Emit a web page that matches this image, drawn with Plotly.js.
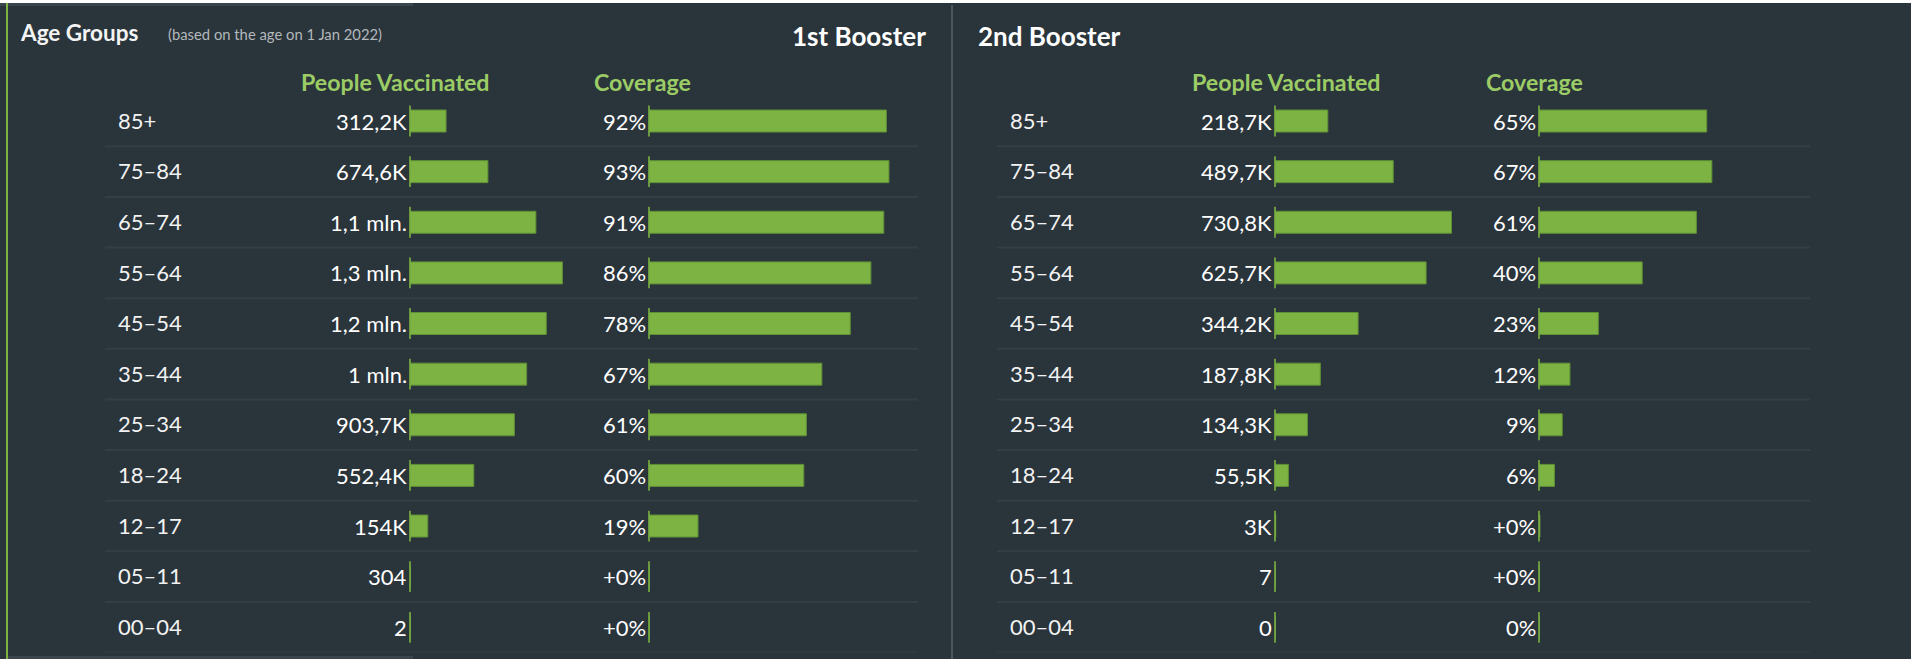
<!DOCTYPE html>
<html><head><meta charset="utf-8">
<script src="https://cdn.plot.ly/plotly-3.0.1.min.js"></script>
<style>html,body{margin:0;padding:0;background:#2a343b;overflow:hidden}#chart{width:1911px;height:659px}</style>
</head><body><div id="chart"></div>
<script>
// ---- data ----
const ageGroups = ['85+', '75–84', '65–74', '55–64', '45–54', '35–44', '25–34', '18–24', '12–17', '05–11', '00–04'];
const people1st = [312200, 674600, 1090000, 1320000, 1180000, 1010000, 903700, 552400, 154000, 304, 2];
const coverage1st = [92, 93, 91, 86, 78, 67, 61, 60, 19, 0.02, 0.0002];
const people2nd = [218700, 489700, 730800, 625700, 344200, 187800, 134300, 55500, 3000, 7, 0];
const coverage2nd = [65, 67, 61, 40, 23, 12, 9, 6, 0.37, 0.0005, 0];
const panelTitles = ['1st Booster', '2nd Booster'];
const columnHeaders = ['People Vaccinated', 'Coverage'];

// ---- helpers ----
const W = 1911, H = 659;
const px = v => v / W;
const py = v => 1 - v / H;
const BG = '#2a343b', GREEN = '#7cb342', EDGE = '#5f8f35', HEAD = '#9ccc65';
const FONT = 'Lato, "Open Sans", sans-serif';

function trimNum(s) { return s.replace(/\.0$/, '').replace('.', ','); }
function fmtPeople(v) {
  if (v >= 1e6) return trimNum((v / 1e6).toFixed(1)) + ' mln.';
  if (v >= 1e3) return trimNum((v / 1e3).toFixed(1)) + 'K';
  return String(v);
}
function fmtCov(v) {
  if (v === 0) return '0%';
  const r = Math.round(v);
  return (r === 0 ? '+0' : String(r)) + '%';
}

const panels = [
  {xa: 'x',  ya: 'y',  vals: people1st,   fmt: fmtPeople},
  {xa: 'x2', ya: 'y',  vals: coverage1st, fmt: fmtCov},
  {xa: 'x3', ya: 'y2', vals: people2nd,   fmt: fmtPeople},
  {xa: 'x4', ya: 'y2', vals: coverage2nd, fmt: fmtCov}
];

const traces = [];
const annotations = [];
panels.forEach(p => {
  traces.push({
    type: 'bar', orientation: 'h', x: p.vals, y: ageGroups,
    xaxis: p.xa, yaxis: p.ya,
    marker: {color: GREEN, line: {color: EDGE, width: 1}},
    hoverinfo: 'skip', showlegend: false
  });
  traces.push({
    type: 'scatter', mode: 'markers', x: p.vals.map(() => 0), y: ageGroups,
    xaxis: p.xa, yaxis: p.ya,
    marker: {symbol: 'line-ns', size: 22, color: GREEN, line: {color: GREEN, width: 1.6}},
    hoverinfo: 'skip', showlegend: false, cliponaxis: false
  });
  p.vals.forEach((v, i) => {
    annotations.push({
      xref: p.xa, yref: p.ya, x: 0, y: ageGroups[i], text: p.fmt(v),
      xanchor: 'right', yanchor: 'middle', xshift: -1, showarrow: false,
      font: {family: FONT, size: 22, color: '#ffffff'}
    });
  });
});

// titles and headers
annotations.push({xref: 'paper', yref: 'paper', x: px(18), y: py(33), xanchor: 'left', yanchor: 'middle', showarrow: false,
  text: 'Age Groups', font: {family: FONT, size: 22.5, weight: 'bold', color: '#f4f4f4'}});
annotations.push({xref: 'paper', yref: 'paper', x: px(166), y: py(34), xanchor: 'left', yanchor: 'middle', showarrow: false,
  text: '(based on the age on 1 Jan 2022)', font: {family: FONT, size: 14.8, color: '#b3b8bb'}});
annotations.push({xref: 'paper', yref: 'paper', x: px(928), y: py(36), xanchor: 'right', yanchor: 'middle', showarrow: false,
  text: panelTitles[0], font: {family: FONT, size: 26, weight: 'bold', color: '#ffffff'}});
annotations.push({xref: 'paper', yref: 'paper', x: px(976), y: py(36), xanchor: 'left', yanchor: 'middle', showarrow: false,
  text: panelTitles[1], font: {family: FONT, size: 26, weight: 'bold', color: '#ffffff'}});
[[299, 0], [592, 1], [1190, 0], [1484, 1]].forEach(([x, k]) => {
  annotations.push({xref: 'paper', yref: 'paper', x: px(x), y: py(82), xanchor: 'left', yanchor: 'middle', showarrow: false,
    text: columnHeaders[k], font: {family: FONT, size: 23.2, weight: 'bold', color: HEAD}});
});

// decorations
const shapes = [
  {type: 'rect', xref: 'paper', yref: 'paper', x0: 0, x1: 1, y0: py(3), y1: 1, fillcolor: '#ffffff', line: {width: 0}},
  {type: 'rect', xref: 'paper', yref: 'paper', x0: 0, x1: px(413), y0: py(6), y1: py(3), fillcolor: '#3b454c', line: {width: 0}},
  {type: 'rect', xref: 'paper', yref: 'paper', x0: px(8), x1: px(413), y0: 0, y1: py(656), fillcolor: '#3b454c', line: {width: 0}},
  {type: 'rect', xref: 'paper', yref: 'paper', x0: px(6), x1: px(8), y0: 0, y1: py(3), fillcolor: '#7cb342', line: {width: 0}},
  {type: 'line', xref: 'paper', yref: 'paper', x0: px(952), x1: px(952), y0: 0, y1: py(5), line: {color: '#5b6268', width: 1.5}}
];
ageGroups.forEach((g, i) => {
  [['y', 105, 918], ['y2', 997, 1810]].forEach(([ya, a, b]) => {
    shapes.push({type: 'line', xref: 'paper', yref: ya, x0: px(a), x1: px(b), y0: i + 0.5, y1: i + 0.5,
      line: {color: '#343e45', width: 2}, layer: 'below'});
  });
});

const yCommon = {
  type: 'category', categoryorder: 'array', categoryarray: ageGroups,
  range: [ageGroups.length - 0.5, -0.5], domain: [py(652.6), py(95.7)],
  anchor: 'free', side: 'left', ticklabelposition: 'inside', ticks: '',
  showgrid: false, zeroline: false, showline: false, fixedrange: true,
  tickfont: {family: FONT, size: 22, color: '#f2f2f2'}
};
const xCommon = {visible: false, showgrid: false, zeroline: false, fixedrange: true};

const layout = {
  width: W, height: H, margin: {l: 0, r: 0, t: 0, b: 0, pad: 0},
  paper_bgcolor: BG, plot_bgcolor: 'rgba(0,0,0,0)',
  barmode: 'overlay', bargap: 0.565, showlegend: false,
  font: {family: FONT, color: '#ffffff'},
  xaxis:  Object.assign({}, xCommon, {domain: [px(410), px(600)],  range: [0, 190 / 0.0001155], anchor: 'y'}),
  xaxis2: Object.assign({}, xCommon, {domain: [px(649), px(907)],  range: [0, 100], anchor: 'y'}),
  xaxis3: Object.assign({}, xCommon, {domain: [px(1275), px(1475)], range: [0, 200 / 0.0002415], anchor: 'y2'}),
  xaxis4: Object.assign({}, xCommon, {domain: [px(1539), px(1797)], range: [0, 100], anchor: 'y2'}),
  yaxis:  Object.assign({}, yCommon, {position: px(114)}),
  yaxis2: Object.assign({}, yCommon, {position: px(1006), matches: 'y'}),
  annotations: annotations, shapes: shapes
};

Plotly.newPlot('chart', traces, layout, {displayModeBar: false, responsive: false});
</script>
</body></html>
